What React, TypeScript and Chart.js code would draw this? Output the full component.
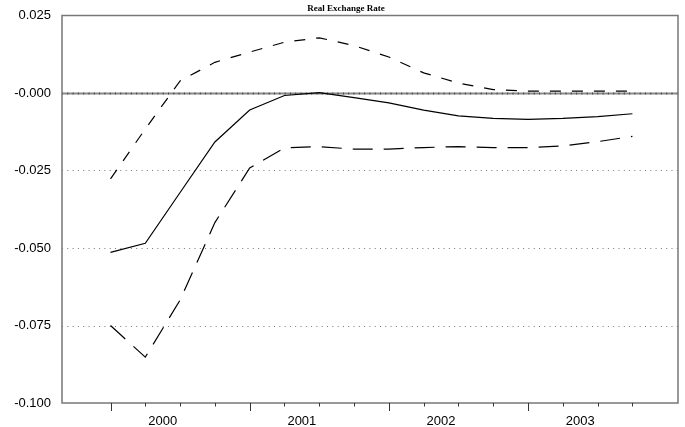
import React, { useEffect, useRef } from "react";
import { Chart, registerables } from "chart.js";

Chart.register(...registerables);

const quarters = [
  "2000Q1", "2000Q2", "2000Q3", "2000Q4",
  "2001Q1", "2001Q2", "2001Q3", "2001Q4",
  "2002Q1", "2002Q2", "2002Q3", "2002Q4",
  "2003Q1", "2003Q2", "2003Q3", "2003Q4",
];
const upperBand = [-0.0277, -0.0116, 0.0039, 0.0099, 0.0132, 0.0164, 0.0178, 0.0153, 0.0116, 0.0065, 0.0032, 0.0011, 0.0006, 0.0006, 0.0006, 0.0006];
const response = [-0.0514, -0.0485, -0.0321, -0.0158, -0.0055, -0.0008, 0.0001, -0.0015, -0.0032, -0.0055, -0.0074, -0.0082, -0.0085, -0.0082, -0.0076, -0.0067];
const lowerBand = [-0.075, -0.0852, -0.0668, -0.0418, -0.0242, -0.0177, -0.0173, -0.0181, -0.0181, -0.0176, -0.0173, -0.0176, -0.0176, -0.0171, -0.0157, -0.014];
const yearLabels = ["2000", "2001", "2002", "2003"];
const yearCenters = [1.5, 5.5, 9.5, 13.5];
const yTicks = [0.025, 0, -0.025, -0.05, -0.075, -0.1];
const dottedLevels = [-0.025, -0.05, -0.075];
const chartTitle = "Real Exchange Rate";

const toPoints = (arr: number[]) => arr.map((v, i) => ({ x: i, y: v }));

const framePlugin = {
  id: "framePlugin",
  beforeDatasetsDraw(chart: any) {
    const { ctx, chartArea, scales } = chart;
    const { left, right } = chartArea;
    const ys = scales.y;
    ctx.save();
    ctx.strokeStyle = "#777";
    ctx.lineWidth = 1;
    ctx.setLineDash([1, 4.3]);
    dottedLevels.forEach((v) => {
      const y = Math.round(ys.getPixelForValue(v)) + 0.5;
      ctx.beginPath();
      ctx.moveTo(left, y);
      ctx.lineTo(right, y);
      ctx.stroke();
    });
    const y0 = Math.round(ys.getPixelForValue(0)) + 0.5;
    ctx.setLineDash([]);
    ctx.strokeStyle = "#8a8a8a";
    ctx.lineWidth = 2;
    ctx.beginPath();
    ctx.moveTo(left, y0);
    ctx.lineTo(right, y0);
    ctx.stroke();
    ctx.strokeStyle = "#444";
    ctx.setLineDash([1, 4.3]);
    ctx.beginPath();
    ctx.moveTo(left, y0);
    ctx.lineTo(right, y0);
    ctx.stroke();
    ctx.restore();
  },
  afterDraw(chart: any) {
    const { ctx, chartArea, scales } = chart;
    const { left, right, top, bottom } = chartArea;
    const xs = scales.x;
    ctx.save();
    ctx.setLineDash([]);
    ctx.strokeStyle = "#777";
    ctx.lineWidth = 1.5;
    ctx.strokeRect(left, top, right - left, bottom - top);
    ctx.strokeStyle = "#333";
    ctx.lineWidth = 1;
    quarters.forEach((q, i) => {
      const x = Math.round(xs.getPixelForValue(i)) + 0.5;
      const len = i % 4 === 0 ? 8 : 3.5;
      ctx.beginPath();
      ctx.moveTo(x, bottom);
      ctx.lineTo(x, bottom + len);
      ctx.stroke();
    });
    // title
    ctx.fillStyle = "#000";
    ctx.font = "bold 9px 'Liberation Serif', serif";
    ctx.textAlign = "center";
    ctx.textBaseline = "middle";
    ctx.fillText(chartTitle, chart.width / 2 + 3.5, top / 2 + 0.5);
    ctx.restore();
  },
};

export default function App() {
  const ref = useRef<HTMLCanvasElement | null>(null);
  useEffect(() => {
    if (!ref.current) return;
    const chart = new Chart(ref.current, {
      type: "line",
      data: {
        datasets: [
          {
            label: "Upper",
            data: toPoints(upperBand),
            borderColor: "#000",
            borderWidth: 1.2,
            borderDash: [11, 11],
            pointRadius: 0,
            tension: 0,
          },
          {
            label: "Response",
            data: toPoints(response),
            borderColor: "#000",
            borderWidth: 1.2,
            pointRadius: 0,
            tension: 0,
          },
          {
            label: "Lower",
            data: toPoints(lowerBand),
            borderColor: "#000",
            borderWidth: 1.2,
            borderDash: [20, 11],
            pointRadius: 0,
            tension: 0,
          },
        ],
      },
      options: {
        animation: false,
        responsive: true,
        maintainAspectRatio: false,
        layout: { padding: { left: 0, right: 7, top: 15.5, bottom: 0 } },
        plugins: {
          legend: { display: false },
          tooltip: { enabled: false },
          title: { display: false },
        },
        scales: {
          x: {
            type: "linear",
            min: -1.394,
            max: 16.31,
            grid: { display: false },
            border: { display: false },
            afterBuildTicks: (scale: any) => {
              scale.ticks = yearCenters.map((v) => ({ value: v }));
            },
            afterFit: (scale: any) => {
              scale.height = 24;
            },
            ticks: {
              autoSkip: false,
              maxRotation: 0,
              padding: 3,
              color: "#000",
              font: { family: "'Liberation Sans', Arial, sans-serif", size: 13 },
              callback: (v: any) => {
                const idx = yearCenters.indexOf(Number(v));
                return idx >= 0 ? yearLabels[idx] : "";
              },
            },
          },
          y: {
            type: "linear",
            min: -0.1,
            max: 0.025,
            grid: { display: false },
            border: { display: false },
            afterBuildTicks: (scale: any) => {
              scale.ticks = yTicks.map((v) => ({ value: v }));
            },
            afterFit: (scale: any) => {
              scale.width = 62;
            },
            ticks: {
              padding: 3,
              color: "#000",
              font: { family: "'Liberation Sans', Arial, sans-serif", size: 13 },
              callback: (v: any) => {
                const n = Number(v);
                return Math.abs(n) < 1e-9 ? "-0.000" : n.toFixed(3);
              },
            },
          },
        },
      },
      plugins: [framePlugin],
    });
    return () => chart.destroy();
  }, []);
  return (
    <div style={{ position: "fixed", left: 0, top: 0, width: 685, height: 427, background: "#fff" }}>
      <canvas ref={ref} />
    </div>
  );
}
